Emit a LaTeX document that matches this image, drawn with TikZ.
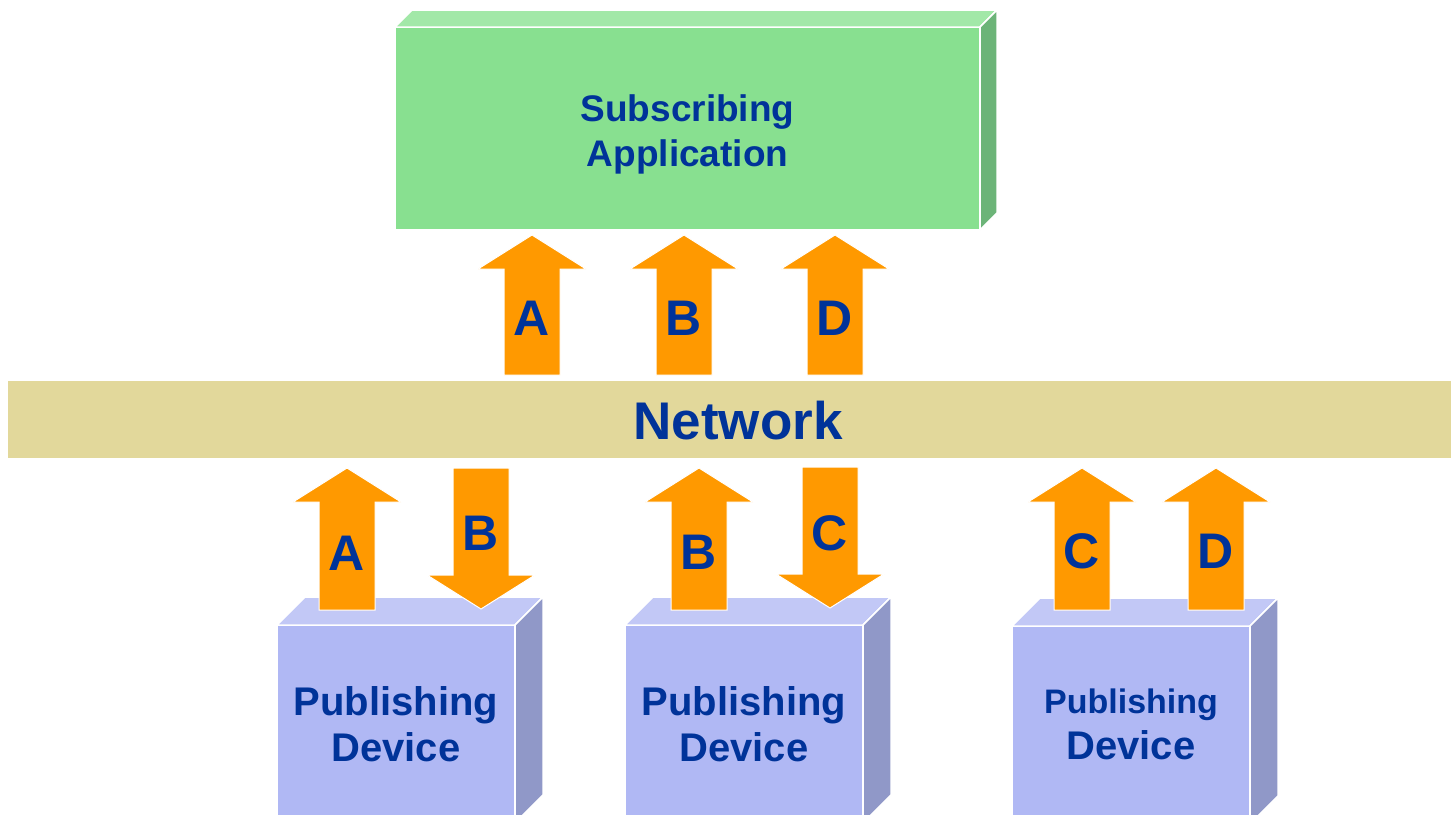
\documentclass[tikz,border=0pt]{standalone}
\usepackage{fontspec}
\setmainfont{Liberation Sans}
\definecolor{grfront}{RGB}{136,224,144}
\definecolor{grtop}{RGB}{162,232,168}
\definecolor{grside}{RGB}{108,180,120}
\definecolor{blfront}{RGB}{176,184,244}
\definecolor{bltop}{RGB}{194,200,246}
\definecolor{blside}{RGB}{144,152,200}
\definecolor{orng}{RGB}{255,153,0}
\definecolor{netcol}{RGB}{226,216,155}
\definecolor{txtblue}{RGB}{0,51,153}
\tikzset{
  face/.style={draw=white, line width=1.5pt, line join=miter},
  frontface/.style={face, inner sep=0pt, outer sep=0pt, text=txtblue, align=center, font=\bfseries},
  boxlabel/.style={text=txtblue, align=center, inner sep=0pt},
  arrowbody/.style={fill=orng, draw=white, line width=1pt},
  letter/.style={text=txtblue, font=\fontsize{50}{60}\selectfont\bfseries, anchor=base, inner sep=0pt},
}
% #1 name, #2 cx, #3 bottom y, #4 tip y, #5 letter, #6 letter baseline
\newcommand{\UpArr}[6]{%
  \filldraw[arrowbody] (#2-28,#3) -- (#2-28,#4+34) -- (#2-54,#4+34) -- (#2,#4)
     -- (#2+54,#4+34) -- (#2+28,#4+34) -- (#2+28,#3) -- cycle;
  \node[letter] (#1) at (#2,#6) {#5};}
% #1 name, #2 cx, #3 top y, #4 tip y, #5 letter, #6 letter baseline
\newcommand{\DownArr}[6]{%
  \filldraw[arrowbody] (#2-28,#3) -- (#2-28,#4-34) -- (#2-54,#4-34) -- (#2,#4)
     -- (#2+54,#4-34) -- (#2+28,#4-34) -- (#2+28,#3) -- cycle;
  \node[letter] (#1) at (#2,#6) {#5};}
% #1 node name, #2 depth, #3 top colour, #4 side colour
\newcommand{\CubeFaces}[4]{%
  \filldraw[face, fill=#3] (#1.north west) -- ++(#2,-#2) -- ([xshift=#2pt,yshift=#2pt]#1.north east) -- (#1.north east) -- cycle;
  \filldraw[face, fill=#4] (#1.north east) -- ++(#2,-#2) -- ([xshift=#2pt,yshift=#2pt]#1.south east) -- (#1.south east) -- cycle;}
\begin{document}
\begin{tikzpicture}[x=1pt,y=-1pt]
\clip (0,0) rectangle (1451,814);
\fill[white] (0,0) rectangle (1451,814);

% Subscribing application
\node[frontface, fill=grfront, minimum width=585pt, minimum height=203pt] (sub) at (687.5,128.5) {};
\CubeFaces{sub}{17}{grtop}{grside}
\node[boxlabel, font=\fontsize{37}{45}\selectfont\bfseries] (sublabel) at (687.5,134) {Subscribing\\Application};

% Network band
\node[fill=netcol, inner sep=0pt, minimum width=1443pt, minimum height=77pt] (net) at (729.5,419.5) {};
\node[text=txtblue, font=\fontsize{53}{60}\selectfont\bfseries, inner sep=0pt] (netlabel) at (738,421) {Network};

% Arrows to subscriber
\UpArr{ta}{532}{375}{235}{A}{335}
\UpArr{tb}{684}{375}{235}{B}{335}
\UpArr{td}{835}{375}{235}{D}{335}

% Publishing devices
\node[frontface, fill=blfront, minimum width=238pt, minimum height=198pt,
      font=\fontsize{40}{46}\selectfont\bfseries] (dev1) at (396,724) {Publishing\\Device};
\CubeFaces{dev1}{28}{bltop}{blside}
\node[frontface, fill=blfront, minimum width=238pt, minimum height=198pt,
      font=\fontsize{40}{46}\selectfont\bfseries] (dev2) at (744,724) {Publishing\\Device};
\CubeFaces{dev2}{28}{bltop}{blside}
\node[frontface, fill=blfront, minimum width=238pt, minimum height=198pt] (dev3) at (1131,725) {};
\CubeFaces{dev3}{28}{bltop}{blside}
\node[boxlabel] (dev3label) at (1131,724) {\fontsize{34}{45}\selectfont\bfseries Publishing\\[9pt]\fontsize{40}{45}\selectfont\bfseries Device};

% Device arrows
\UpArr{d1a}{347}{610}{468}{A}{570}
\DownArr{d1b}{481}{468}{609}{B}{550}
\UpArr{d2b}{699}{610}{468}{B}{569}
\DownArr{d2c}{830}{467}{608}{C}{550}
\UpArr{d3c}{1082}{610}{468}{C}{568}
\UpArr{d3d}{1216}{610}{468}{D}{568}
\end{tikzpicture}
\end{document}
